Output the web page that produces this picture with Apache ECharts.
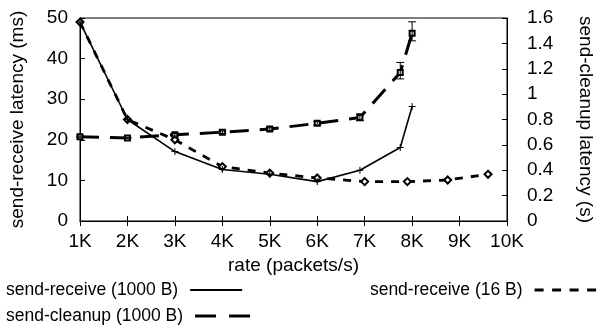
<!DOCTYPE html>
<html>
<head>
<meta charset="utf-8">
<script src="https://cdn.jsdelivr.net/npm/echarts@6/dist/echarts.min.js"></script>
<style>
  html, body { margin: 0; padding: 0; background: #fff; }
  #main { width: 603px; height: 328px; }
</style>
</head>
<body>
<div id="main"></div>
<script>
// send-receive (1000 B), left axis (ms)
const rate1000 = [1000, 2000, 3000, 4000, 5000, 6000, 6900, 7750, 8000];
const recv1000 = [49, 25, 17.1, 12.7, 11.5, 9.7, 12.5, 18.1, 28.2];

// send-receive (16 B), left axis (ms)
const rate16 = [1000, 2000, 3000, 4000, 5000, 6000, 7000, 7900, 8750, 9600];
const recv16 = [49, 25, 20, 13.4, 11.8, 10.6, 9.7, 9.7, 10.1, 11.5];

// send-cleanup (1000 B), right axis (s)
const rateClean = [1000, 2000, 3000, 4000, 5000, 6000, 6900, 7750, 8000];
const cleanup = [0.665, 0.655, 0.68, 0.70, 0.725, 0.77, 0.815, 1.17, 1.48];
const errLow = [0.66, 0.65, 0.67, 0.69, 0.715, 0.755, 0.79, 1.12, 1.42];
const errHigh = [0.67, 0.66, 0.69, 0.71, 0.735, 0.785, 0.845, 1.25, 1.57];

const xTicks = ['1K', '2K', '3K', '4K', '5K', '6K', '7K', '8K', '9K', '10K'];

const font = 'Liberation Sans, Arial, sans-serif';
const plus = 'path://M0,5L10,5M5,0L5,10';

const chart = echarts.init(document.getElementById('main'));

function pairs(xs, ys) {
  return xs.map((x, i) => [x, ys[i]]);
}

const legendBase = {
  orient: 'horizontal',
  align: 'right',
  padding: 0,
  itemWidth: 52,
  itemHeight: 14,
  itemStyle: { opacity: 0 },
  textStyle: { fontFamily: font, fontSize: 17.5, color: '#000', padding: [0, 7, 0, 0] }
};

const tickFont = { fontFamily: font, fontSize: 19, color: '#000' };

const option = {
  animation: false,
  backgroundColor: '#fff',
  textStyle: { fontFamily: font },
  grid: {
    left: 78, right: 91, top: 18, bottom: 107,
    show: true, borderColor: '#000', borderWidth: 1
  },
  legend: [
    Object.assign({}, legendBase, { left: 6, top: 281, data: ['send-receive (1000 B)'] }),
    Object.assign({}, legendBase, {
      right: 5, top: 281, itemWidth: 62,
      lineStyle: { type: [9, 8.5], width: 2.8 },
      data: ['send-receive (16 B)']
    }),
    Object.assign({}, legendBase, {
      left: 6, top: 307, itemWidth: 55,
      lineStyle: { type: [21, 13], width: 3 },
      data: ['send-cleanup (1000 B)']
    })
  ],
  xAxis: [{
    type: 'value',
    min: 1000, max: 10000, interval: 1000,
    name: 'rate (packets/s)',
    nameLocation: 'middle',
    nameGap: 32,
    nameTextStyle: tickFont,
    axisLine: { lineStyle: { color: '#000' } },
    axisTick: { inside: true, length: 5, lineStyle: { color: '#000' } },
    axisLabel: Object.assign({ margin: 11, formatter: v => xTicks[Math.round(v / 1000) - 1] }, tickFont),
    splitLine: { show: false }
  }, {
    type: 'value',
    position: 'top',
    min: 1000, max: 10000, interval: 1000,
    axisLine: { lineStyle: { color: '#000' } },
    axisTick: { inside: true, length: 5, lineStyle: { color: '#000' } },
    axisLabel: { show: false },
    splitLine: { show: false }
  }],
  yAxis: [{
    type: 'value',
    min: 0, max: 50, interval: 10,
    name: 'send-receive latency (ms)',
    nameLocation: 'middle',
    nameGap: 53,
    nameTextStyle: tickFont,
    axisLine: { show: true, lineStyle: { color: '#000' } },
    axisTick: { show: true, inside: true, length: 5, lineStyle: { color: '#000' } },
    axisLabel: Object.assign({ margin: 12 }, tickFont),
    splitLine: { show: false }
  }, {
    type: 'value',
    position: 'right',
    min: 0, max: 1.6, interval: 0.2,
    name: 'send-cleanup latency (s)',
    nameLocation: 'middle',
    nameGap: 69,
    nameRotate: -90,
    nameTextStyle: tickFont,
    axisLine: { show: true, lineStyle: { color: '#000' } },
    axisTick: { show: true, inside: true, length: 5, lineStyle: { color: '#000' } },
    axisLabel: Object.assign({ margin: 20 }, tickFont),
    splitLine: { show: false }
  }],
  series: [{
    name: 'send-receive (1000 B)',
    type: 'line',
    yAxisIndex: 0,
    data: pairs(rate1000, recv1000),
    symbol: plus,
    symbolSize: 7,
    lineStyle: { color: '#000', width: 1.6 },
    itemStyle: { color: '#000', borderColor: '#000', borderWidth: 1 },
    z: 3
  }, {
    name: 'send-receive (16 B)',
    type: 'line',
    yAxisIndex: 0,
    data: pairs(rate16, recv16),
    symbol: 'emptyDiamond',
    symbolSize: 7,
    lineStyle: { color: '#000', width: 2.8, type: [8, 8] },
    itemStyle: { color: '#000', borderColor: '#000', borderWidth: 1 },
    z: 2
  }, {
    name: 'send-cleanup (1000 B)',
    type: 'line',
    yAxisIndex: 1,
    data: pairs(rateClean, cleanup),
    symbol: 'emptyRect',
    symbolSize: 5,
    lineStyle: { color: '#000', width: 3, type: [19, 11] },
    itemStyle: { color: '#000', borderColor: '#000', borderWidth: 1 },
    z: 2
  }, {
    name: 'cleanup error',
    type: 'custom',
    yAxisIndex: 1,
    data: rateClean.map((x, i) => [x, errLow[i], errHigh[i]]),
    renderItem: function (params, api) {
      const lo = api.coord([api.value(0), api.value(1)]);
      const hi = api.coord([api.value(0), api.value(2)]);
      const w = 4;
      const st = { stroke: '#000', lineWidth: 1 };
      return {
        type: 'group',
        children: [
          { type: 'line', shape: { x1: lo[0], y1: lo[1], x2: hi[0], y2: hi[1] }, style: st },
          { type: 'line', shape: { x1: lo[0] - w, y1: lo[1], x2: lo[0] + w, y2: lo[1] }, style: st },
          { type: 'line', shape: { x1: hi[0] - w, y1: hi[1], x2: hi[0] + w, y2: hi[1] }, style: st }
        ]
      };
    },
    z: 4
  }]
};

chart.setOption(option);
</script>
</body>
</html>
